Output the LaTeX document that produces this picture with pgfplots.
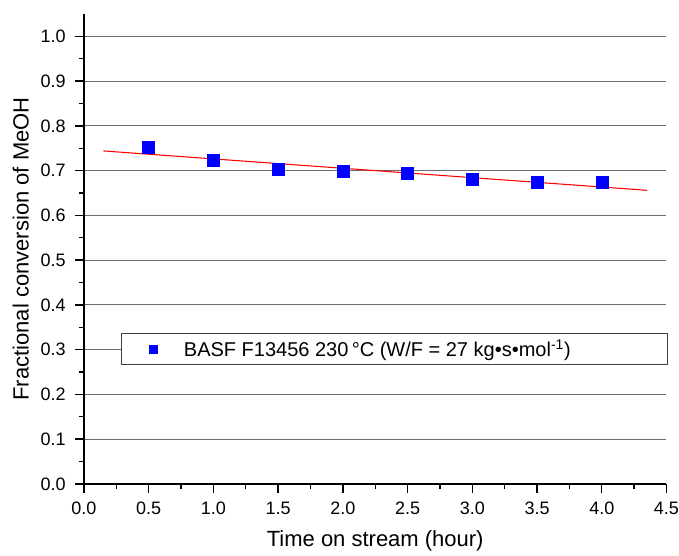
\documentclass[border=0pt]{standalone}
\usepackage{fontspec}
\setmainfont{Liberation Sans}
\usepackage{pgfplots}
\pgfplotsset{compat=1.18}

\definecolor{gridgray}{RGB}{110,110,110}

\begin{document}
\begin{tikzpicture}
\begin{axis}[
  scale only axis,
  width=437pt, height=352.5pt,
  xmin=0, xmax=4.5, ymin=0, ymax=1.05,
  axis x line=bottom, axis y line=left,
  axis line style={-, line width=1.1pt, black},
  xtick={0,0.5,...,4.5},
  ytick={0,0.1,...,1.0},
  minor x tick num=1,
  minor y tick num=1,
  tick align=outside,
  major tick length=6.5pt,
  minor tick length=4pt,
  tick style={black, line width=1.0pt},
  ymajorgrids,
  major grid style={gridgray, line width=0.8pt},
  /pgf/number format/assume math mode=true,
  /pgf/number format/.cd, fixed, fixed zerofill, precision=1,
  /pgfplots/.cd,
  tick label style={font=\fontsize{13.5}{15}\selectfont},
  yticklabel style={xshift=-3.7pt},
  xticklabel style={yshift=-3.7pt, inner xsep=0pt},
  xlabel={Time on stream (hour)},
  ylabel={Fractional conversion of MeOH},
  label style={font=\fontsize{16.5}{19}\selectfont},
  xlabel style={yshift=-5pt},
  ylabel style={yshift=2pt},
  legend style={
    at={(rel axis cs:1.003,0.287)}, anchor=east,
    draw=darkgray, line width=0.6pt, fill=white,
    font=\fontsize{15}{18}\selectfont,
    inner xsep=21pt, inner ysep=2.5pt,
  },
  legend image post style={mark size=3pt},
  legend cell align=left,
]
\addplot[only marks, mark=square*, mark size=4.5pt, color=blue, mark options={fill=blue, draw=blue}]
  coordinates {
    (0.5,0.752) (1.0,0.724) (1.5,0.704) (2.0,0.699)
    (2.5,0.693) (3.0,0.681) (3.5,0.673) (4.0,0.674)
  };
\addlegendentry{\hspace*{18pt}\makebox[340pt][l]{BASF F13456 230\,°C (W/F = 27 kg•s•mol\textsuperscript{-1})}}
\addplot[red, line width=0.8pt, forget plot]
  coordinates {(0.15,0.744) (4.35,0.656)};
\end{axis}
\path (current axis.north) ++(0,10.5pt);
\path (current axis.west) ++(-63pt,0);
\end{tikzpicture}
\end{document}
